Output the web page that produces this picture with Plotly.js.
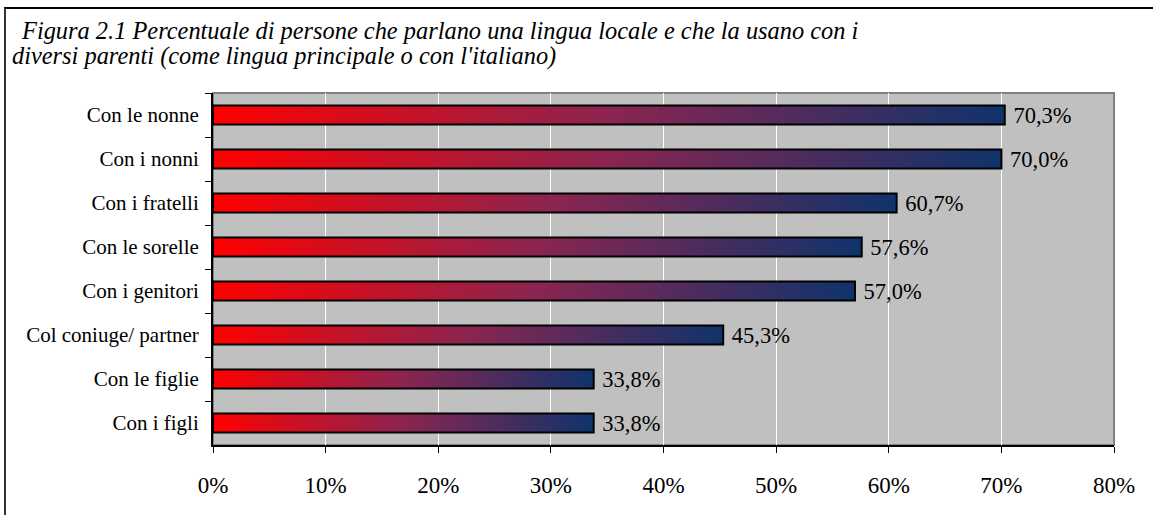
<!DOCTYPE html>
<html>
<head>
<meta charset="utf-8">
<script src="https://cdn.plot.ly/plotly-3.0.1.min.js"></script>
<style>
  html, body { margin:0; padding:0; background:#fff; }
  #wrap { position:relative; width:1153px; height:515px; }
  #chart { position:absolute; left:0; top:0; width:1153px; height:515px; }
  #frame { position:absolute; left:4px; top:7px; width:1149px; height:508px;
           border-top:2px solid #000; border-left:2px solid #333; pointer-events:none; box-sizing:border-box; }
</style>
</head>
<body>
<div id="wrap">
  <div id="chart"></div>
  <div id="frame"></div>
</div>
<script>
// Data (top to bottom as in the reference)
const categories = ["Con le nonne", "Con i nonni", "Con i fratelli", "Con le sorelle",
                    "Con i genitori", "Col coniuge/ partner", "Con le figlie", "Con i figli"];
const values = [70.3, 70.0, 60.7, 57.6, 57.0, 45.3, 33.8, 33.8];
const xTickVals = [0, 10, 20, 30, 40, 50, 60, 70, 80];
const xTickText = ["0%", "10%", "20%", "30%", "40%", "50%", "60%", "70%", "80%"];
const titleLine1 = "Figura 2.1 Percentuale di persone che parlano una lingua locale e che la usano con i";
const titleLine2 = "diversi parenti (come lingua principale o con l'italiano)";

const serif = "Liberation Serif";

const trace = {
  type: "bar",
  orientation: "h",
  y: categories,
  x: values,
  marker: { color: "#c00030", line: { color: "#000", width: 2 } },
  texttemplate: " %{x:.1f}%",
  textposition: "outside",
  constraintext: "none",
  cliponaxis: false,
  textfont: { family: serif, size: 22.5, color: "#000" },
  hoverinfo: "skip"
};

const layout = {
  width: 1153, height: 515,
  margin: { l: 213, r: 39, t: 93, b: 70 },
  paper_bgcolor: "#fff",
  plot_bgcolor: "#C0C0C0",
  separators: ",.",
  bargap: 0.57,
  showlegend: false,
  xaxis: {
    range: [0, 80],
    tickmode: "array",
    tickvals: xTickVals,
    ticktext: xTickText,
    showgrid: true, gridcolor: "#fff", gridwidth: 1,
    zeroline: false,
    showline: true, linecolor: "#000", linewidth: 2,
    ticks: "outside", ticklen: 6, tickcolor: "#000", tickwidth: 1,
    ticklabelstandoff: 12,
    tickfont: { family: serif, size: 23, color: "#000" },
    fixedrange: true
  },
  yaxis: {
    type: "category",
    autorange: "reversed",
    tickson: "boundaries",
    showgrid: false,
    zeroline: false,
    showline: true, linecolor: "#000", linewidth: 2,
    ticks: "outside", ticklen: 6, tickcolor: "#000", tickwidth: 1,
    ticklabelstandoff: 8,
    tickfont: { family: serif, size: 21, color: "#000" },
    fixedrange: true
  },
  annotations: [
    { text: "<i>" + titleLine1 + "</i>", xref: "paper", yref: "paper",
      x: (19 - 213) / 901, xanchor: "left", y: 1 + (93 - 30) / 352, yanchor: "middle",
      showarrow: false, font: { family: serif, size: 24.4, color: "#000" } },
    { text: "<i>" + titleLine2 + "</i>", xref: "paper", yref: "paper",
      x: (10 - 213) / 901, xanchor: "left", y: 1 + (93 - 56) / 352, yanchor: "middle",
      showarrow: false, font: { family: serif, size: 24.4, color: "#000" } }
  ],
  shapes: [{
    type: "rect", xref: "paper", yref: "paper",
    x0: 0, x1: 1, y0: 0, y1: 1,
    line: { color: "#808080", width: 2 },
    layer: "below"
  }]
};

function applyGradient() {
  const svg = document.querySelector("#chart .main-svg");
  if (!svg) return;
  const ns = "http://www.w3.org/2000/svg";
  let defs = svg.querySelector("defs");
  if (!defs) { defs = document.createElementNS(ns, "defs"); svg.insertBefore(defs, svg.firstChild); }
  if (!svg.querySelector("#barGrad")) {
    const g = document.createElementNS(ns, "linearGradient");
    g.setAttribute("id", "barGrad");
    g.setAttribute("x1", "0"); g.setAttribute("y1", "0");
    g.setAttribute("x2", "1"); g.setAttribute("y2", "0");
    const stops = [[0, "#FF0000"], [0.5, "#8A2550"], [1, "#0F336B"]];
    stops.forEach(([o, c]) => {
      const s = document.createElementNS(ns, "stop");
      s.setAttribute("offset", o);
      s.setAttribute("stop-color", c);
      g.appendChild(s);
    });
    defs.appendChild(g);
  }
  document.querySelectorAll("#chart .trace.bars .point path").forEach(p => {
    p.style.fill = "url(#barGrad)";
    p.style.fillOpacity = 1;
  });
}

Plotly.newPlot("chart", [trace], layout, { staticPlot: true, displayModeBar: false })
  .then(applyGradient);
</script>
</body>
</html>
